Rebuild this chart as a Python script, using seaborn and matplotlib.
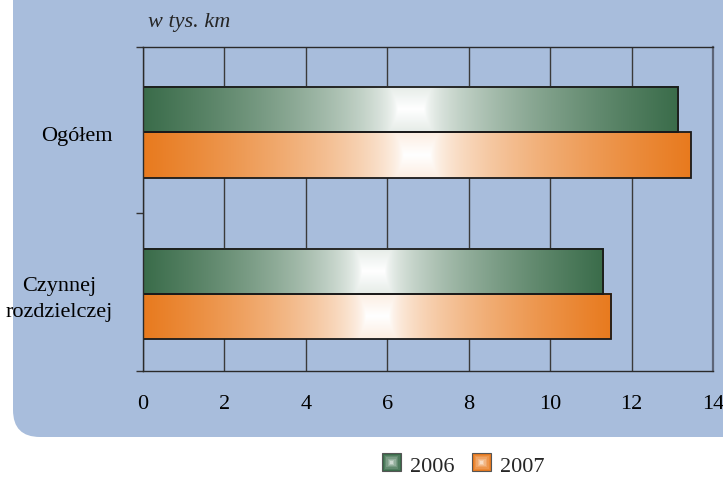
import numpy as np
import pandas as pd
import matplotlib
matplotlib.use("Agg")
import matplotlib.pyplot as plt
import seaborn as sns
from matplotlib.colors import to_rgb
from matplotlib.patches import Rectangle, FancyBboxPatch, Patch

# data
categories = ["Ogółem", "Czynnej\nrozdzielczej"]
years = ["2006", "2007"]
values_2006 = [13.15, 11.3]
values_2007 = [13.45, 11.5]

GREEN = "#3A6C4A"
ORANGE = "#E87A1E"
PANEL = "#A8BDDC"

sns.set_theme(style="white")
plt.rcParams['font.family'] = ['Liberation Serif', 'DejaVu Serif']
FS = 16

df = pd.DataFrame({
    'kategoria': categories * 2,
    'rok': [years[0]] * 2 + [years[1]] * 2,
    'km': values_2006 + values_2007,
})

fig = plt.figure(figsize=(7.23, 4.8), dpi=100)
fig.patch.set_facecolor('white')

# blue panel with rounded lower-left corner
panel = FancyBboxPatch((0.13, 0.43), 9, 6, boxstyle="round,pad=0,rounding_size=0.27",
                       transform=fig.dpi_scale_trans, facecolor=PANEL, edgecolor='none', zorder=-5)
fig.add_artist(panel)

ax = fig.add_axes([0.1978, 0.227, 0.7884, 0.675])
ax.set_facecolor('none')

sns.barplot(data=df, y='kategoria', x='km', hue='rok', orient='h',
            palette=[GREEN, ORANGE], saturation=1, width=0.56, errorbar=None,
            edgecolor='#1a1a1a', linewidth=1.3, legend=False, ax=ax)


def grad_image(col, nx=400, ny=60):
    col = np.array(to_rgb(col))
    u = np.linspace(-1, 1, nx)[None, :]
    v = np.linspace(-1, 1, ny)[:, None]
    th = np.clip((np.abs(u) - 0.05) / 0.95, 0, 1) ** 0.6
    t = np.maximum(th, 0.13 * np.abs(v))
    img = (1 - t)[..., None] * np.ones(3) + t[..., None] * col
    return img


# gradient fill for each bar
for p in list(ax.patches):
    x0, y0, w, h = p.get_x(), p.get_y(), p.get_width(), p.get_height()
    img = grad_image(p.get_facecolor())
    ax.imshow(img, extent=[x0, x0 + w, y0 + h, y0], aspect='auto',
              interpolation='bilinear', zorder=1.5)
    p.set_facecolor('none')
    p.set_zorder(2)

y_lo, y_hi = -0.53, 1.48
ax.set_xlim(0, 14)
ax.set_ylim(y_hi, y_lo)
ax.set_xticks(range(0, 15, 2))
ax.tick_params(axis='x', length=0, pad=17, labelsize=FS, colors='black')
ax.set_yticks([y_lo, 0.5, y_hi])
ax.set_yticklabels([])
ax.tick_params(axis='y', which='major', left=True, length=5, width=1, color='#333333', direction='out')
ax.set_yticks([0.01, 1.0], minor=True)
ax.set_yticklabels(categories, minor=True)
ax.tick_params(axis='y', which='minor', left=True, length=0, pad=22, labelsize=FS, colors='black')
for lab in ax.get_yticklabels(minor=True):
    lab.set_multialignment('center')
    lab.set_linespacing(1.5)
ax.set_xlabel('')
ax.set_ylabel('')

ax.grid(axis='x', color='#3a3a3a', linewidth=1)
ax.grid(axis='y', visible=False)
ax.set_axisbelow(True)
for side in ['left', 'top', 'bottom']:
    ax.spines[side].set_color('#2a2a2a')
    ax.spines[side].set_linewidth(1)
ax.spines['right'].set_color('#5d6578')
ax.spines['right'].set_linewidth(1.6)

fig.text(148 / 723, 1 - 22 / 480, 'w tys. km', fontsize=FS, style='italic', va='center', ha='left')


class GradBoxHandler:
    def legend_artist(self, legend, orig_handle, fontsize, handlebox):
        x0, y0 = handlebox.xdescent, handlebox.ydescent
        w, h = handlebox.width, handlebox.height
        col = np.array(to_rgb(orig_handle.get_facecolor()))
        n = 7
        for i in range(n):
            f = i / n
            t = (1 - f) ** 0.7
            c = (1 - t) * np.ones(3) + t * col
            r = Rectangle([x0 + w * f / 2, y0 + h * f / 2], w * (1 - f), h * (1 - f),
                          facecolor=c, edgecolor='#555555' if i == 0 else 'none',
                          linewidth=0.8, transform=handlebox.get_transform())
            handlebox.add_artist(r)
        return r


handles = [Patch(facecolor=GREEN, label=years[0]), Patch(facecolor=ORANGE, label=years[1])]
fig.legend(handles=handles, loc='center', bbox_to_anchor=(0.641, 0.028), ncol=2,
           frameon=False, fontsize=FS, handlelength=0.85, handleheight=0.85,
           handletextpad=0.4, columnspacing=0.8,
           handler_map={Patch: GradBoxHandler()})

fig.savefig('out.png', dpi=100)
